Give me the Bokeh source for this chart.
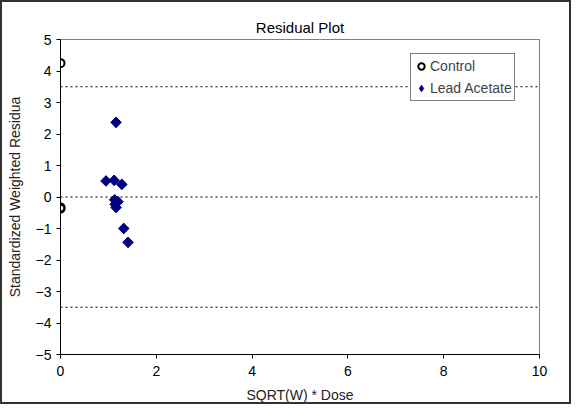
import math
from bokeh.plotting import figure
from bokeh.models import Span, FixedTicker, Legend, LegendItem, ColumnDataSource
from bokeh.embed import file_html
from bokeh.resources import INLINE

control_x = [0.0, 0.0, 0.0]
control_y = [4.25, -0.33, -0.37]

lead_x = [1.16, 0.95, 1.12, 1.28, 1.13, 1.20, 1.16, 1.14, 1.32, 1.41]
lead_y = [2.37, 0.51, 0.53, 0.40, -0.09, -0.15, -0.33, -0.23, -1.00, -1.44]

ref_lines = [3.5, 0.0, -3.5]
x_ticks = [0, 2, 4, 6, 8, 10]
y_ticks = [5, 4, 3, 2, 1, 0, -1, -2, -3, -4, -5]

FONT = "Liberation Sans"

p = figure(width=571, height=404, x_range=(0, 10), y_range=(-5, 5),
           output_backend="svg", toolbar_location=None,
           min_border_left=58, min_border_right=34, min_border_top=37, min_border_bottom=52,
           title="Residual Plot")
p.styles = {"border": "2px solid #333333", "box-sizing": "border-box"}
p.title.align = "center"
p.title.text_font = FONT
p.title.text_font_size = "15px"
p.title.text_font_style = "normal"
p.title.text_color = "black"
p.title.offset = 0
p.title.standoff = 8

p.xgrid.visible = False
p.ygrid.visible = False
p.outline_line_color = "#808080"
p.outline_line_width = 1

for ax in (p.xaxis[0], p.yaxis[0]):
    ax.axis_line_color = "black"
    ax.major_tick_line_color = "black"
    ax.minor_tick_line_color = None
    ax.major_tick_out = 4
    ax.major_tick_in = 0
    ax.major_label_text_font = FONT
    ax.major_label_text_font_size = "14px"
    ax.major_label_text_color = "black"
    ax.axis_label_text_font = FONT
    ax.axis_label_text_font_size = "14px"
    ax.axis_label_text_font_style = "normal"
    ax.axis_label_text_color = "#222222"

p.xaxis.ticker = FixedTicker(ticks=x_ticks)
p.yaxis.ticker = FixedTicker(ticks=y_ticks)
p.xaxis.axis_label = "SQRT(W) * Dose"
p.yaxis.axis_label = "Standardized Weighted Residua"
p.xaxis.axis_label_standoff = 8
p.yaxis.axis_label_standoff = 10
p.yaxis.major_label_standoff = 5
p.xaxis.major_label_standoff = 7

for yv in ref_lines:
    p.add_layout(Span(location=yv, dimension="width", line_color="black",
                      line_dash="2 3", line_width=1))

c_src = ColumnDataSource(dict(x=control_x, y=control_y))
l_src = ColumnDataSource(dict(x=lead_x, y=lead_y))
r1 = p.scatter("x", "y", source=c_src, marker="circle", size=8,
               fill_color=None, line_color="black", line_width=2)
# diamond glyph (used by the legend), hidden beneath the rotated squares
r2_leg = p.scatter("x", "y", source=l_src, marker="diamond", size=10,
                   fill_color="#000080", line_color="#000080")
r2 = p.scatter("x", "y", source=l_src, marker="square", size=7.5, angle=math.pi / 4,
               fill_color="#000080", line_color="#000080")

legend = Legend(items=[LegendItem(label="Control", renderers=[r1]),
                       LegendItem(label="Lead Acetate", renderers=[r2_leg])],
                location=(350, 253))
legend.border_line_color = "black"
legend.border_line_width = 1
legend.label_text_font = FONT
legend.label_text_font_size = "14px"
legend.glyph_width = 16
legend.glyph_height = 20
legend.label_standoff = 1
legend.padding = 2
legend.spacing = 2
legend.margin = 0
legend.label_height = 20
legend.background_fill_alpha = 1
p.add_layout(legend, "center")

open("out.html", "w").write(file_html(p, INLINE))
